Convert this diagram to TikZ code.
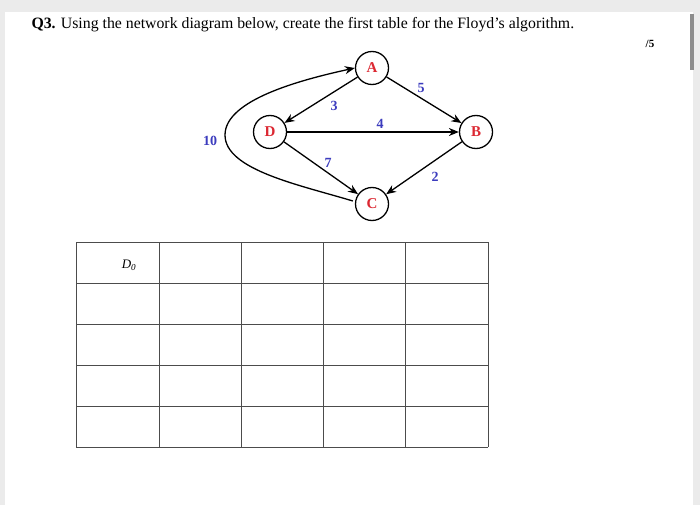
\documentclass[tikz,border=0pt]{standalone}
\usepackage{fontspec}
\setmainfont{Liberation Serif}
\usetikzlibrary{arrows.meta}
\definecolor{nodered}{RGB}{220,40,50}
\definecolor{wblue}{RGB}{60,60,190}
\begin{document}
\begin{tikzpicture}[x=1pt,y=-1pt,
  vtx/.style={draw,circle,line width=1.3pt,minimum size=33pt,inner sep=0pt,font=\bfseries\fontsize{15}{15}\selectfont,text=nodered,fill=white},
  edge/.style={draw,line width=1.3pt,-{Stealth[length=10pt,width=8pt]}},
  wt/.style={font=\bfseries\fontsize{14}{14}\selectfont,text=wblue},
  cell/.style={draw=black!70,line width=0.7pt}]
\useasboundingbox (0,0) rectangle (700,505);
\fill[black!8] (0,0) rectangle (700,505);
\fill[white] (5,12) rectangle (693,505);
\fill[black!45] (690,14) rectangle (694,70);
\node[anchor=base west,font=\fontsize{15.8}{16}\selectfont] (title) at (28,29) {\textbf{Q3.} Using the network diagram below, create the first table for the Floyd’s algorithm.};
\node[anchor=base,font=\bfseries\fontsize{11}{11}\selectfont] (score) at (650,48) {/5};
\node[vtx] (A) at (372,68) {A};
\node[vtx] (D) at (270,132) {D};
\node[vtx] (B) at (476,132) {B};
\node[vtx] (C) at (372,204) {C};
\draw[edge] (A) -- (D);
\draw[edge] (A) -- (B);
\draw[edge] (D) -- (B);
\draw[edge] (D) -- (C);
\draw[edge] (B) -- (C);
\draw[edge] (C.west) ++(-2,-3) .. controls (300,185) and (225,170) .. (225,135) .. controls (225,100) and (300,80) .. (A.west);
\node[wt] (w3) at (334,106) {3};
\node[wt] (w5) at (421,88) {5};
\node[wt] (w4) at (380,124) {4};
\node[wt] (w7) at (328,163) {7};
\node[wt] (w2) at (435,177) {2};
\node[wt] (w10) at (210,141) {10};
\foreach \x in {76,159,241,323,405,488} \draw[cell] (\x,242) -- (\x,447);
\foreach \y in {242,283,324,365,406,447} \draw[cell] (76,\y) -- (488,\y);
\node[font=\itshape\fontsize{13}{13}\selectfont] (d0) at (129,265) {D\textsubscript{0}};
\end{tikzpicture}
\end{document}
